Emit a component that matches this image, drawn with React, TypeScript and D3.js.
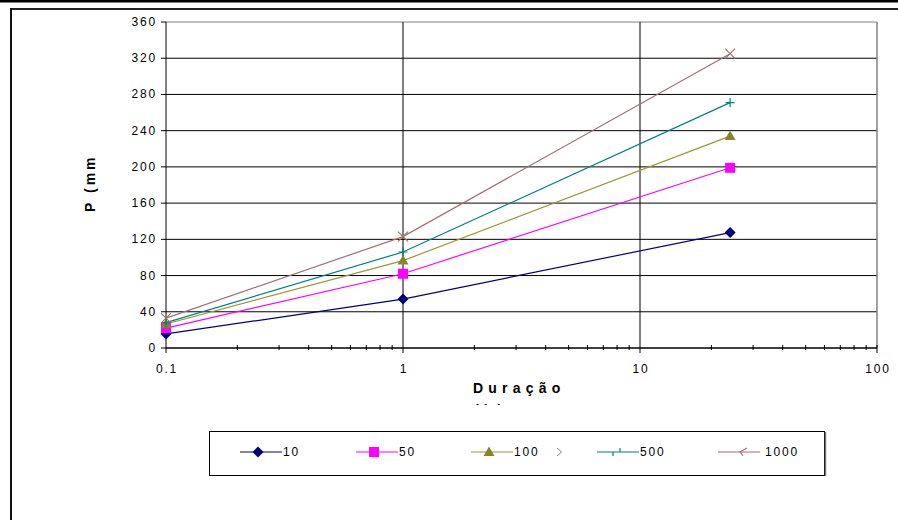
import React from "react";
import * as d3 from "d3";

const durations = [0.1, 1, 24];
const seriesNames = ["10", "50", "100", "500", "1000"];
const p10 = [15.5, 54, 127.5];
const p50 = [22, 82, 199];
const p100 = [26.5, 96.5, 234];
const p500 = [28, 106, 271];
const p1000 = [33, 123, 325];
const seriesColors = ["#000080", "#FF00FF", "#999933", "#008080", "#A07070"];
const markerColors = ["#000080", "#FF00FF", "#868628", "#008080", "#A07070"];
const markerTypes = ["diamond", "square", "triangle", "plus", "cross"];
const xTickValues = [0.1, 1, 10, 100];
const xTickLabels = ["0.1", "1", "10", "100"];
const yTickValues = [0, 40, 80, 120, 160, 200, 240, 280, 320, 360];
const xTitle = "Duração";
const xTitle2 = "(h)";
const yTitle = "P (mm";

const FONT = "'Liberation Sans', Arial, sans-serif";

function Marker({ type, cx, cy, color }: { type: string; cx: number; cy: number; color: string }) {
  if (type === "diamond") {
    return <path d={`M${cx},${cy - 5.5}L${cx + 5.5},${cy}L${cx},${cy + 5.5}L${cx - 5.5},${cy}Z`} fill={color} />;
  }
  if (type === "square") {
    return <rect x={cx - 5} y={cy - 5} width={10} height={10} fill={color} />;
  }
  if (type === "triangle") {
    return <path d={`M${cx},${cy - 5.5}L${cx + 5.5},${cy + 4}L${cx - 5.5},${cy + 4}Z`} fill={color} />;
  }
  if (type === "plus") {
    return (
      <path d={`M${cx - 4.5},${cy}H${cx + 4.5}M${cx},${cy - 4.5}V${cy + 4.5}`} stroke={color} strokeWidth={1.2} fill="none" />
    );
  }
  return (
    <path
      d={`M${cx - 5},${cy - 5}L${cx + 5},${cy + 5}M${cx + 5},${cy - 5}L${cx - 5},${cy + 5}`}
      stroke={color}
      strokeWidth={1.1}
      fill="none"
    />
  );
}

export default function App() {
  const W = 898;
  const H = 520;
  const x = d3.scaleLog().domain([0.1, 100]).range([166, 877]);
  const y = d3.scaleLinear().domain([0, 360]).range([348, 22]);
  const allSeries = [p10, p50, p100, p500, p1000];

  const minorTicks: number[] = [];
  [0.1, 1, 10].forEach((d) => {
    for (let k = 2; k <= 9; k++) minorTicks.push(d * k);
  });

  const line = d3
    .line<number>()
    .x((_, i) => x(durations[i]))
    .y((v) => y(v));

  const legendX = [240, 356, 471, 597, 718];
  const legendY = 452;

  return (
    <svg
      width={W}
      height={H}
      style={{ position: "absolute", left: 0, top: 0, background: "#fff" }}
      fontFamily={FONT}
    >
      <defs>
        <clipPath id="xTitleClip">
          <rect x={0} y={0} width={W} height={405} />
        </clipPath>
      </defs>
      <rect x={0} y={0} width={W} height={H} fill="#fff" />
      {/* top band and outer frame */}
      <rect x={0} y={0} width={W} height={2.5} fill="#000" />
      <line x1={10} x2={W} y1={9} y2={9} stroke="#222" strokeWidth={2} />
      <line x1={11} x2={11} y1={8} y2={H} stroke="#111" strokeWidth={2} />

      {/* horizontal gridlines */}
      {yTickValues.map((v) => (
        <line key={"g" + v} x1={x(0.1)} x2={x(100)} y1={y(v)} y2={y(v)} stroke={v === 360 ? "#808080" : "#000"} strokeWidth={1} />
      ))}
      {/* vertical gridlines at decades */}
      {[1, 10].map((v) => (
        <line key={"vg" + v} x1={x(v)} x2={x(v)} y1={y(360)} y2={y(0) + 5} stroke="#000" strokeWidth={1} />
      ))}
      {/* right border */}
      <line x1={x(100)} x2={x(100)} y1={y(360)} y2={y(0)} stroke="#808080" strokeWidth={1.5} />

      {/* y axis */}
      <line x1={x(0.1)} x2={x(0.1)} y1={y(360)} y2={y(0) + 5} stroke="#000" strokeWidth={1} />
      {yTickValues.map((v) => (
        <g key={"yt" + v}>
          <line x1={x(0.1) - 5} x2={x(0.1)} y1={y(v)} y2={y(v)} stroke="#000" />
          <text x={157} y={y(v) + 4} textAnchor="end" fontSize={12} letterSpacing={1.8} fill="#000">
            {v}
          </text>
        </g>
      ))}

      {/* x axis */}
      <line x1={x(0.1)} x2={x(100)} y1={y(0)} y2={y(0)} stroke="#000" strokeWidth={1} />
      {minorTicks.map((v, i) => (
        <line key={"mt" + i} x1={x(v)} x2={x(v)} y1={y(0) - 3} y2={y(0) + 2} stroke="#000" />
      ))}
      <line x1={x(100)} x2={x(100)} y1={y(0) - 3} y2={y(0) + 5} stroke="#000" />
      {xTickValues.map((v, i) => (
        <text key={"xl" + v} x={x(v) + 1} y={373} textAnchor="middle" fontSize={12} letterSpacing={1.8} fill="#000">
          {xTickLabels[i]}
        </text>
      ))}

      {/* series lines */}
      {allSeries.map((s, si) => (
        <path key={"l" + si} d={line(s) || ""} fill="none" stroke={seriesColors[si]} strokeWidth={1.2} />
      ))}
      {allSeries.map((s, si) =>
        s.map((v, i) => (
          <Marker key={"m" + si + "-" + i} type={markerTypes[si]} cx={x(durations[i])} cy={y(v)} color={markerColors[si]} />
        ))
      )}

      {/* axis titles */}
      <g clipPath="url(#xTitleClip)">
        <text x={473} y={393} fontSize={14} fontWeight="bold" letterSpacing={5.2} fill="#000">
          {xTitle}
        </text>
        <text x={474} y={415} fontSize={14} fontWeight="bold" letterSpacing={5.2} fill="#000">
          {xTitle2}
        </text>
      </g>
      <text
        transform="translate(95,212) rotate(-90)"
        fontSize={14}
        fontWeight="bold"
        letterSpacing={3}
        fill="#000"
      >
        {yTitle}
      </text>

      {/* legend */}
      <rect x={209.5} y={431.5} width={615} height={44} fill="#fff" stroke="#000" strokeWidth={1} />
      <line x1={825.5} x2={825.5} y1={432} y2={476} stroke="#777" strokeWidth={1.5} />
      {seriesNames.map((name, si) => {
        const lx = legendX[si];
        const mx = lx + 18;
        return (
          <g key={"lg" + si}>
            <line x1={lx} x2={lx + 42} y1={legendY} y2={legendY} stroke={seriesColors[si]} strokeWidth={1.2} />
            {si < 3 && <Marker type={markerTypes[si]} cx={mx} cy={legendY} color={markerColors[si]} />}
            {si === 3 && (
              <path
                d={`M${lx + 16},${legendY}V${legendY + 4}M${lx + 23},${legendY - 4}V${legendY}`}
                stroke={markerColors[si]}
                strokeWidth={1.2}
                fill="none"
              />
            )}
            {si === 4 && (
              <path
                d={`M${lx + 29},${legendY - 4}L${lx + 22},${legendY}L${lx + 25},${legendY + 4}`}
                stroke={markerColors[si]}
                strokeWidth={1.1}
                fill="none"
              />
            )}
            <text x={lx + (si === 4 ? 47 : 43)} y={legendY + 4} fontSize={12} letterSpacing={1.8} fill="#000">
              {name}
            </text>
          </g>
        );
      })}
      <path d={`M557,448L561.5,452L557,456`} stroke={markerColors[4]} strokeWidth={1} fill="none" />
    </svg>
  );
}
